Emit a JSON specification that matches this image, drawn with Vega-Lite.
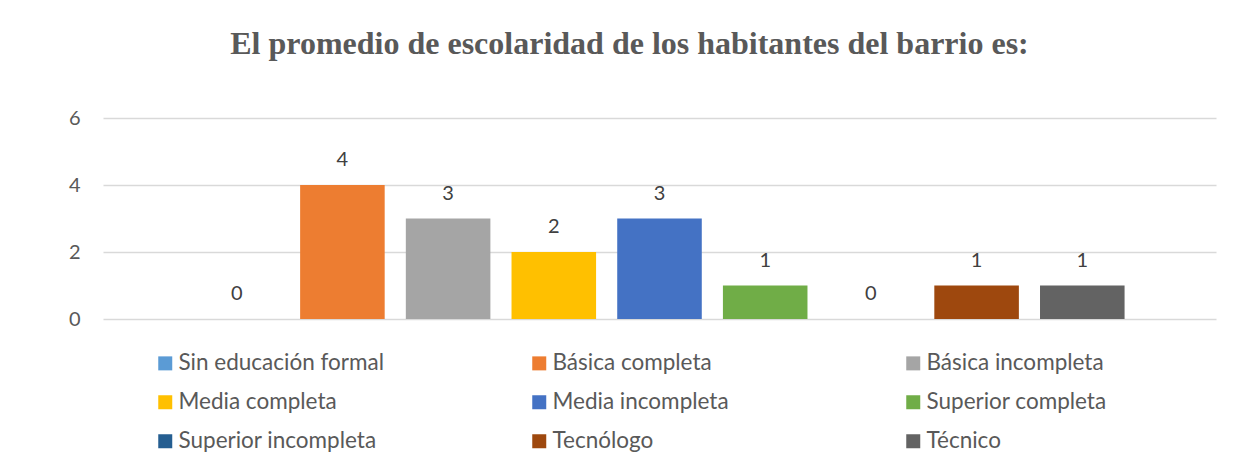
{
  "$schema": "https://vega.github.io/schema/vega-lite/v6.json",
  "width": 1113,
  "height": 201,
  "autosize": {"type": "none"},
  "padding": {"left": 103, "top": 118, "right": 32, "bottom": 138},
  "background": "white",
  "title": {
    "text": "El promedio de escolaridad de los habitantes del barrio es:",
    "font": "Liberation Serif",
    "fontSize": 32,
    "fontWeight": "bold",
    "color": "#595959",
    "anchor": "middle",
    "frame": "group",
    "dx": -30,
    "offset": 47
  },
  "data": {
    "values": [
      {"nivel": "Sin educación formal", "valor": 0},
      {"nivel": "Básica completa", "valor": 4},
      {"nivel": "Básica incompleta", "valor": 3},
      {"nivel": "Media completa", "valor": 2},
      {"nivel": "Media incompleta", "valor": 3},
      {"nivel": "Superior completa", "valor": 1},
      {"nivel": "Superior incompleta", "valor": 0},
      {"nivel": "Tecnólogo", "valor": 1},
      {"nivel": "Técnico", "valor": 1}
    ]
  },
  "encoding": {
    "x": {
      "field": "nivel",
      "type": "nominal",
      "sort": null,
      "axis": null,
      "scale": {"paddingInner": 0.2, "paddingOuter": 0.865}
    },
    "y": {
      "field": "valor",
      "type": "quantitative",
      "scale": {"domain": [0, 6], "nice": false},
      "axis": {
        "values": [0, 2, 4, 6],
        "title": null,
        "domain": false,
        "ticks": false,
        "labelPadding": 23,
        "labelFont": "Lato",
        "labelFontSize": 20,
        "labelColor": "#595959",
        "gridColor": "#D9D9D9",
        "gridWidth": 1.5
      }
    }
  },
  "layer": [
    {
      "mark": {"type": "bar"},
      "encoding": {
        "color": {
          "field": "nivel",
          "type": "nominal",
          "sort": null,
          "scale": {
            "domain": ["Sin educación formal", "Básica completa", "Básica incompleta", "Media completa", "Media incompleta", "Superior completa", "Superior incompleta", "Tecnólogo", "Técnico"],
            "range": ["#5B9BD5", "#ED7D31", "#A5A5A5", "#FFC000", "#4472C4", "#70AD47", "#255E91", "#9E480E", "#636363"]
          },
          "legend": {
            "title": null,
            "orient": "none",
            "direction": "horizontal",
            "legendX": 51,
            "legendY": 234,
            "columns": 3,
            "gridAlign": "all",
            "columnPadding": 144,
            "rowPadding": 16,
            "symbolType": "square",
            "symbolSize": 196,
            "symbolStrokeWidth": 0,
            "labelFont": "Lato",
            "labelFontSize": 22.5,
            "labelColor": "#595959",
            "labelOffset": 2,
            "labelLimit": 400
          }
        }
      }
    },
    {
      "mark": {"type": "text", "baseline": "alphabetic", "dy": -19, "font": "Lato", "fontSize": 20, "color": "#404040"},
      "encoding": {
        "text": {"field": "valor", "type": "quantitative"}
      }
    }
  ],
  "config": {"view": {"stroke": null}}
}
